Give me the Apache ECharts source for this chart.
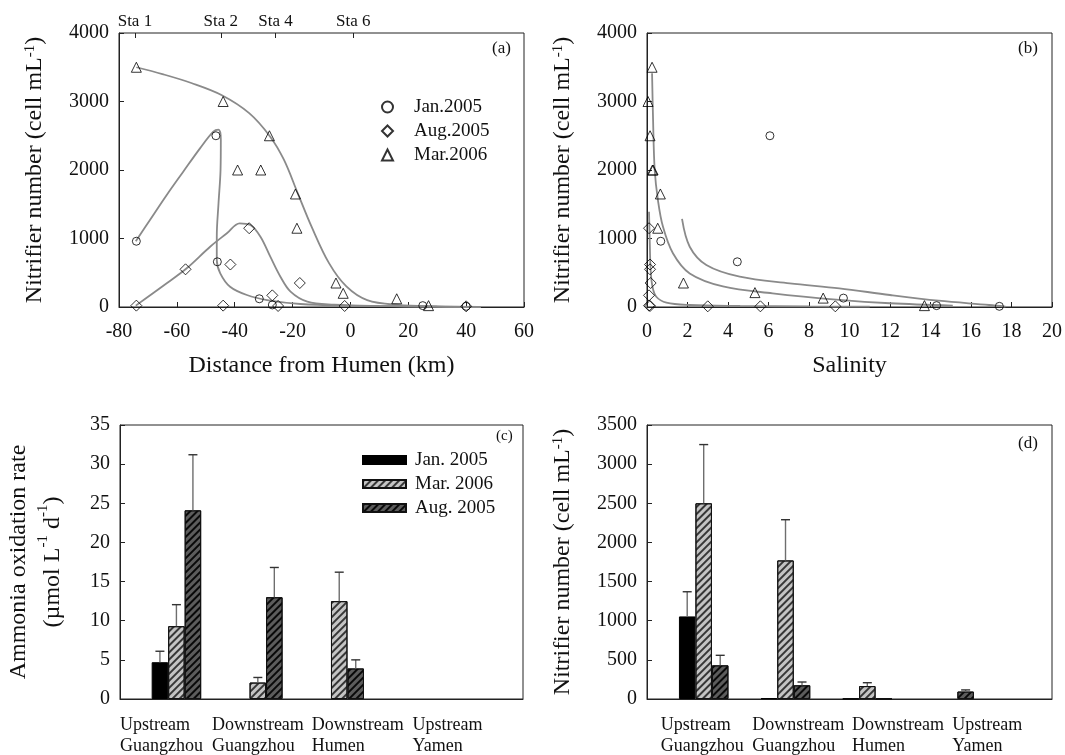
<!DOCTYPE html>
<html><head><meta charset="utf-8">
<script src="https://cdn.jsdelivr.net/npm/echarts@6/dist/echarts.min.js"></script>
<style>html,body{margin:0;padding:0;background:#fff}#c{width:1065px;height:755px}</style>
</head><body><div id="c"></div>
<script>
// ---------- Panel (a): nitrifier number vs distance from Humen ----------
const janDistA = [-74, -46.5, -46, -31.5, -27, 25, 40];
const janNumA  = [960, 2500, 660, 120, 30, 20, 10];
const augDistA = [-74, -57, -44, -41.5, -35, -27, -25, -17.5, -2, 40];
const augNumA  = [20, 550, 20, 620, 1150, 170, 15, 350, 15, 10];
const marDistA = [-74, -44, -39, -31, -28, -19, -18.5, -5, -2.5, 16, 27];
const marNumA  = [3500, 3000, 2000, 2000, 2500, 1650, 1150, 350, 200, 120, 20];
// fitted curves
const fitJanAx = [-74.2, -69.3, -63.5, -57.8, -52, -47.4, -45.6, -44.8, -44.9, -45.6, -46.2, -46.2, -45, -41.6, -35.8, -28.8, -17.3, -1, 20, 45];
const fitJanAy = [960, 1270, 1635, 1975, 2316, 2560, 2590, 2440, 2000, 1514, 1026, 686, 492, 296, 175, 102, 44, 20, 10, 0];
const fitAugAx = [-74.2, -63.5, -56.6, -48.5, -42.7, -38.3, -34.6, -31.1, -27.7, -24.2, -20.7, -14.9, -5.7, 10, 30, 45];
const fitAugAy = [20, 346, 565, 880, 1076, 1222, 1197, 1026, 734, 442, 224, 78, 35, 15, 5, 0];
const fitMarAx = [-74, -65, -55, -44.6, -35, -27.8, -23, -18.2, -13.4, -7.4, -1.4, 5.8, 16.6, 30, 45];
const fitMarAy = [3500, 3400, 3270, 3095, 2830, 2490, 2150, 1660, 1170, 640, 300, 100, 30, 10, 0];
const staNames = ['Sta 1', 'Sta 2', 'Sta 4', 'Sta 6'];
const staKm    = [-74.5, -44.8, -25.9, 1];

// ---------- Panel (b): nitrifier number vs salinity ----------
const janSalB = [0.68, 6.07, 4.46, 9.7, 14.3, 17.4];
const janNumB = [960, 2500, 660, 130, 20, 10];
const augSalB = [0.1, 0.15, 0.15, 0.18, 0.1, 0.1, 0.15, 3.0, 5.6, 9.3];
const augNumB = [1150, 620, 550, 350, 170, 20, 15, 10, 10, 10];
const marSalB = [0.25, 0.05, 0.15, 0.27, 0.3, 0.66, 0.53, 1.8, 5.33, 8.7, 13.7];
const marNumB = [3500, 3000, 2500, 2000, 2000, 1650, 1150, 350, 210, 130, 20];
const fitJanBx = [1.73, 2.11, 2.93, 4.58, 7.05, 9.5, 12, 14.4, 16.9, 17.7];
const fitJanBy = [1285, 880, 613, 442, 346, 273, 175, 92, 29, 5];
const fitMarBx = [0.25, 0.3, 0.38, 0.54, 0.79, 1.28, 2.11, 3.75, 6.2, 9.5, 12, 15.1];
const fitMarBy = [3411, 2730, 2000, 1560, 1170, 785, 490, 300, 200, 105, 55, 20];
const fitAugBx = [0.1, 0.13, 0.18, 0.27, 0.46, 0.96, 2.1, 4.6, 8, 11];
const fitAugBy = [1391, 1026, 540, 296, 150, 63, 29, 15, 8, 5];

// ---------- Panels (c) and (d): bars ----------
const catNames = ['Upstream\nGuangzhou', 'Downstream\nGuangzhou', 'Downstream\nHumen', 'Upstream\nYamen'];
const rateJan = [4.7, null, null, null];   const rateJanErr = [1.4, null, null, null];
const rateMar = [9.3, 2.1, 12.5, null];    const rateMarErr = [2.75, 0.65, 3.7, null];
const rateAug = [24.1, 13.0, 3.9, null];   const rateAugErr = [7.1, 3.8, 1.1, null];
const numJan = [1055, 10, 5, null];        const numJanErr = [315, null, null, null];
const numMar = [2500, 1770, 165, null];    const numMarErr = [750, 520, 43, null];
const numAug = [430, 175, 5, 95];          const numAugErr = [128, 42, null, 21];

// ---------- layout constants ----------
const groupPos = [0.7, 1.71, 2.72, 3.73];
const labelPosC = [0, 1.14, 2.38, 3.63];
const labelPosD = [0.17, 1.3, 2.53, 3.77];
const FONT = '"Liberation Serif", "Times New Roman", serif';
const AX = '#222';

const zip = (a, b) => a.map((v, i) => [v, b[i]]);
const hollow = { color: 'rgba(255,255,255,0)', borderColor: '#000', borderWidth: 1 };

function scatter(name, xi, yi, xs, ys, symbol, size) {
  return { type: 'scatter', name, xAxisIndex: xi, yAxisIndex: yi, data: zip(xs, ys),
    symbol, symbolSize: size, itemStyle: hollow, z: 5, silent: true };
}
function curve(xi, yi, xs, ys) {
  return { type: 'line', name: 'fit', xAxisIndex: xi, yAxisIndex: yi, data: zip(xs, ys),
    showSymbol: false, smooth: 0.35, lineStyle: { color: '#8a8a8a', width: 1.8 }, z: 3, silent: true };
}
const decalMar = { symbol: 'rect', symbolSize: 1, color: 'rgba(30,30,30,0.85)', dashArrayX: [1, 0], dashArrayY: [1.1, 2.3], rotation: -Math.PI / 4 };
const decalAug = { symbol: 'rect', symbolSize: 1, color: 'rgba(0,0,0,0.9)', dashArrayX: [1, 0], dashArrayY: [1.1, 2.3], rotation: -Math.PI / 4 };
const barStyles = {
  'Jan. 2005': { color: '#000', borderColor: '#000', borderWidth: 1 },
  'Mar. 2006': { color: '#c4c4c4', borderColor: '#111', borderWidth: 1, decal: decalMar },
  'Aug. 2005': { color: '#5c5c5c', borderColor: '#111', borderWidth: 1, decal: decalAug }
};
function bars(name, xi, yi, vals) {
  return { type: 'bar', name, xAxisIndex: xi, yAxisIndex: yi, barWidth: 16.5, barGap: '0%',
    data: groupPos.map((p, i) => [p, vals[i] == null ? '-' : vals[i]]),
    itemStyle: barStyles[name], silent: true, z: 2 };
}
function errBars(xi, yi, vals, errs, offset) {
  return { type: 'custom', name: 'err', xAxisIndex: xi, yAxisIndex: yi, silent: true, z: 4,
    data: groupPos.map((p, i) => [p, vals[i], errs[i]]).filter(d => d[2] != null),
    renderItem: (params, api) => {
      const x = api.value(0), v = api.value(1), e = api.value(2);
      const p0 = api.coord([x, v]), p1 = api.coord([x, v + e]);
      const cx = p0[0] + offset;
      return { type: 'group', children: [
        { type: 'line', shape: { x1: cx, y1: p0[1], x2: cx, y2: p1[1] }, style: { stroke: '#6e6e6e', lineWidth: 1.4 } },
        { type: 'line', shape: { x1: cx - 4.5, y1: p1[1], x2: cx + 4.5, y2: p1[1] }, style: { stroke: '#333', lineWidth: 1.4 } }
      ] };
    } };
}

const tickFont = { fontFamily: FONT, fontSize: 20, color: '#111' };
const nameFont = { fontFamily: FONT, fontSize: 24, color: '#111',
  rich: { s: { fontFamily: FONT, fontSize: 15, verticalAlign: 'top', color: '#111' } } };
const gridBase = { show: true, borderColor: AX, borderWidth: 1, backgroundColor: 'transparent', containLabel: false, outerBoundsMode: 'none' };

function valAxis(extra) {
  return Object.assign({
    type: 'value', splitLine: { show: false },
    axisLine: { show: true, onZero: false, lineStyle: { color: AX, width: 1 } },
    axisTick: { show: true, inside: true, length: 5, lineStyle: { color: AX } },
    axisLabel: Object.assign({ margin: 10, formatter: v => String(v) }, tickFont),
    nameTextStyle: nameFont, nameLocation: 'middle'
  }, extra);
}
const plainLabel = (o) => Object.assign({ formatter: v => String(v) }, tickFont, o);

const option = {
  animation: false,
  backgroundColor: '#fff',
  grid: [
    Object.assign({ left: 119, top: 33, width: 405, height: 274 }, gridBase),
    Object.assign({ left: 647, top: 33, width: 405, height: 274 }, gridBase),
    Object.assign({ left: 120, top: 425, width: 403, height: 274 }, gridBase),
    Object.assign({ left: 647, top: 425, width: 405, height: 274 }, gridBase)
  ],
  xAxis: [
    valAxis({ gridIndex: 0, min: -80, max: 60, interval: 20, name: 'Distance from Humen (km)', nameGap: 47,
      axisLabel: plainLabel({ margin: 15 }) }),
    valAxis({ gridIndex: 0, position: 'top', min: -80, max: 60,
      axisLine: { show: false, onZero: false },
      axisTick: { show: true, inside: true, length: 5, customValues: staKm, lineStyle: { color: AX } },
      axisLabel: Object.assign({}, tickFont, { fontSize: 17, margin: 3, customValues: staKm, formatter: v => staNames[staKm.indexOf(v)] || '' }) }),
    valAxis({ gridIndex: 1, min: 0, max: 20, interval: 2, name: 'Salinity', nameGap: 47,
      axisLabel: plainLabel({ margin: 15 }) }),
    valAxis({ gridIndex: 2, min: 0, max: 5,
      axisTick: { show: false },
      axisLabel: Object.assign({}, tickFont, { fontSize: 18, margin: 16, customValues: labelPosC, align: 'left', lineHeight: 21,
        formatter: v => catNames[labelPosC.indexOf(v)] || '' }) }),
    valAxis({ gridIndex: 3, min: 0, max: 5,
      axisTick: { show: false },
      axisLabel: Object.assign({}, tickFont, { fontSize: 18, margin: 16, customValues: labelPosD, align: 'left', lineHeight: 21,
        formatter: v => catNames[labelPosD.indexOf(v)] || '' }) })
  ],
  yAxis: [
    valAxis({ gridIndex: 0, min: 0, max: 4000, interval: 1000, name: 'Nitrifier number (cell mL{s|-1})', nameGap: 72 }),
    valAxis({ gridIndex: 1, min: 0, max: 4000, interval: 1000, name: 'Nitrifier number (cell mL{s|-1})', nameGap: 72 }),
    valAxis({ gridIndex: 2, min: 0, max: 35, interval: 5, name: 'Ammonia oxidation rate\n(\u00b5mol L{s|-1} d{s|-1})', nameGap: 50,
      nameTextStyle: Object.assign({}, nameFont, { lineHeight: 34 }) }),
    valAxis({ gridIndex: 3, min: 0, max: 3500, interval: 500, name: 'Nitrifier number (cell mL{s|-1})', nameGap: 72 })
  ],
  legend: [
    { data: ['Jan.2005', 'Aug.2005', 'Mar.2006'], orient: 'vertical', left: 376, top: 92,
      itemWidth: 11, itemHeight: 11, itemGap: 4, selectedMode: false,
      textStyle: { fontFamily: FONT, fontSize: 19, color: '#111', lineHeight: 20, padding: [0, 0, 0, 16] } },
    { data: ['Jan. 2005', 'Mar. 2006', 'Aug. 2005'], orient: 'vertical', left: 357, top: 445,
      icon: 'rect', itemWidth: 43, itemHeight: 8, itemGap: 4, selectedMode: false,
      textStyle: { fontFamily: FONT, fontSize: 19, color: '#111', lineHeight: 20, padding: [0, 0, 0, 4] } }
  ],
  graphic: [
    { type: 'text', left: 492, top: 40, style: { text: '(a)', font: '17px ' + FONT, fill: '#111' } },
    { type: 'text', left: 1018, top: 40, style: { text: '(b)', font: '17px ' + FONT, fill: '#111' } },
    { type: 'text', left: 496, top: 429, style: { text: '(c)', font: '15px ' + FONT, fill: '#111' } },
    { type: 'text', left: 1018, top: 435, style: { text: '(d)', font: '17px ' + FONT, fill: '#111' } }
  ],
  series: [
    curve(0, 0, fitJanAx, fitJanAy),
    curve(0, 0, fitAugAx, fitAugAy),
    curve(0, 0, fitMarAx, fitMarAy),
    scatter('Jan.2005', 0, 0, janDistA, janNumA, 'circle', 8),
    scatter('Aug.2005', 0, 0, augDistA, augNumA, 'diamond', 11),
    scatter('Mar.2006', 0, 0, marDistA, marNumA, 'triangle', 10),
    curve(2, 1, fitJanBx, fitJanBy),
    curve(2, 1, fitMarBx, fitMarBy),
    curve(2, 1, fitAugBx, fitAugBy),
    scatter('Jan.2005', 2, 1, janSalB, janNumB, 'circle', 8),
    scatter('Aug.2005', 2, 1, augSalB, augNumB, 'diamond', 11),
    scatter('Mar.2006', 2, 1, marSalB, marNumB, 'triangle', 10),
    bars('Jan. 2005', 3, 2, rateJan),
    bars('Mar. 2006', 3, 2, rateMar),
    bars('Aug. 2005', 3, 2, rateAug),
    errBars(3, 2, rateJan, rateJanErr, -16.5),
    errBars(3, 2, rateMar, rateMarErr, 0),
    errBars(3, 2, rateAug, rateAugErr, 16.5),
    bars('Jan. 2005', 4, 3, numJan),
    bars('Mar. 2006', 4, 3, numMar),
    bars('Aug. 2005', 4, 3, numAug),
    errBars(4, 3, numJan, numJanErr, -16.5),
    errBars(4, 3, numMar, numMarErr, 0),
    errBars(4, 3, numAug, numAugErr, 16.5)
  ]
};
const chart = echarts.init(document.getElementById('c'), null, { renderer: 'canvas' });
chart.setOption(option);
</script></body></html>
